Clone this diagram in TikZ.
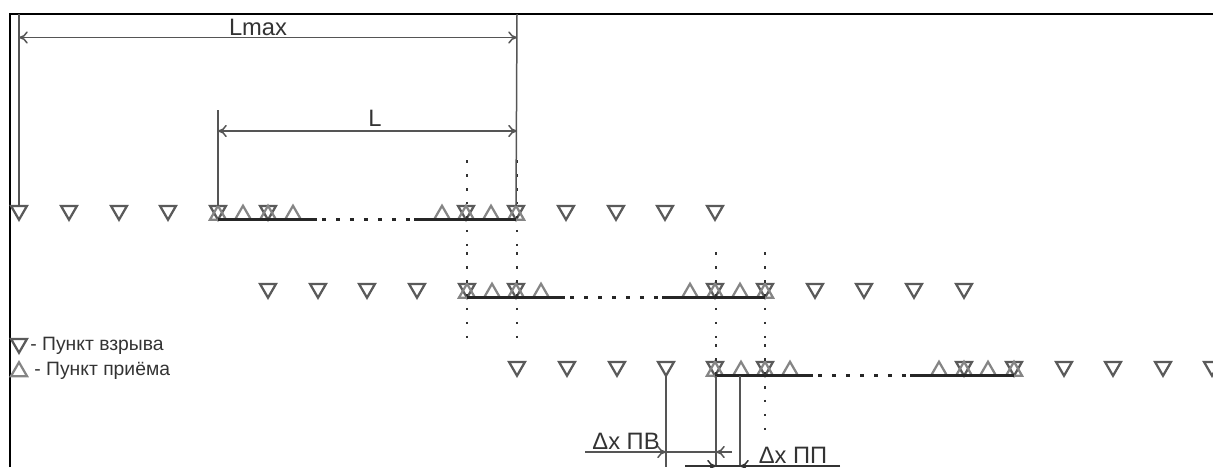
\documentclass[tikz,border=0pt]{standalone}
\usepackage{fontspec}
\setmainfont{Liberation Sans}
\usepackage{xcolor}
\usetikzlibrary{arrows.meta,shapes.geometric}

\definecolor{dimline}{HTML}{555555}
\definecolor{shotcol}{HTML}{5A5A5A}
\definecolor{recvcol}{HTML}{858585}
\definecolor{labelcol}{HTML}{333333}

\tikzset{
  shotpt/.style={draw=shotcol, line width=0.045cm, regular polygon, regular polygon sides=3,
    shape border rotate=180, minimum size=0.37cm, inner sep=0pt, outer sep=0pt},
  recvpt/.style={draw=recvcol, line width=0.045cm, regular polygon, regular polygon sides=3,
    minimum size=0.37cm, inner sep=0pt, outer sep=0pt},
  spread/.style={line width=0.05cm, black!85},
  gapdots/.style={line width=0.055cm, black!85, dash pattern=on 0.08cm off 0.2cm},
  guidedots/.style={line width=0.05cm, black!80, dash pattern=on 0.05cm off 0.23cm},
  dimarrow/.style={dimline, line width=0.03cm, ->, >={To[length=5pt,width=7pt]}},
  dimbare/.style={dimline, line width=0.03cm},
  bigtext/.style={text=labelcol, inner sep=0pt, font=\fontsize{13.5}{15}\selectfont},
  legtext/.style={text=labelcol, inner sep=0pt, anchor=west, font=\fontsize{11}{13}\selectfont}
}

\begin{document}
\begin{tikzpicture}[x=0.02cm,y=-0.02cm]
  \useasboundingbox (0,0) rectangle (1213,467);

  % frame
  \draw[line width=0.055cm, black] (10,467) -- (10,14) -- (1213,14);

  % first row
  \foreach \x in {19,69,119,168,218,268,466,516,566,616,665,715}
    \node[shotpt] (sa\x) at (\x,210.5) {};
  \foreach \x in {218,243,268,293,442,466,491,516}
    \node[recvpt] (ra\x) at (\x,215) {};
  % second row
  \foreach \x in {268,318,367,417,467,516,715,765,815,864,914,964}
    \node[shotpt] (sb\x) at (\x,288.5) {};
  \foreach \x in {467,492,516,541,690,715,740,765}
    \node[recvpt] (rb\x) at (\x,293) {};
  % third row
  \foreach \x in {517,567,617,666,715,765,964,1014,1064,1113,1163,1212}
    \node[shotpt] (sc\x) at (\x,366.5) {};
  \foreach \x in {715,741,765,790,939,964,988,1014}
    \node[recvpt] (rc\x) at (\x,371) {};

  % spreads
  \draw[spread] (218,219.5) -- (317,219.5);
  \draw[gapdots] (322,219.5) -- (410,219.5);
  \draw[spread] (414,219.5) -- (516,219.5);
  \draw[spread] (467,297.5) -- (565,297.5);
  \draw[gapdots] (570,297.5) -- (658,297.5);
  \draw[spread] (662,297.5) -- (765,297.5);
  \draw[spread] (715,375.5) -- (813,375.5);
  \draw[gapdots] (818,375.5) -- (906,375.5);
  \draw[spread] (910,375.5) -- (1014,375.5);

  % dotted guides
  \foreach \x in {467,517} {
    \draw[guidedots] (\x,160) -- (\x,246);
    \draw[guidedots] (\x,252) -- (\x,338);
  }
  \foreach \x in {716,765} {
    \draw[guidedots] (\x,252) -- (\x,338);
    \draw[guidedots] (\x,344) -- (\x,430);
  }

  % Lmax and L
  \coordinate (lmaxa) at (19,14);
  \coordinate (lmaxb) at (517,14);
  \coordinate (ltop) at (218,110);
  \draw[dimbare] (lmaxa) -- (sa19.north);
  \draw[dimbare] (lmaxb) -- (sa516.north);
  \draw[dimbare] (ltop) -- (sa218.north);
  \draw[dimarrow,<->] (19,37.5) -- (517,37.5);
  \draw[dimarrow,<->] (218,131) -- (517,131);
  \node[bigtext] (lmaxtxt) at (258,27) {Lmax};
  \node[bigtext] (ltxt) at (375,118) {L};

  % legend
  \node[shotpt] (legs) at (19,343.5) {};
  \node[recvpt] (legr) at (19,371.5) {};
  \node[legtext] (legstxt) at (30,345.5) {- Пункт взрыва};
  \node[legtext] (legrtxt) at (34,370.5) {- Пункт приёма};

  % steps
  \coordinate (stepa) at (666,467);
  \coordinate (stepb) at (716,467);
  \coordinate (stepc) at (740,467);
  \draw[dimbare] (sc666.south) -- (stepa);
  \draw[dimbare] (716,376) -- (stepb);
  \draw[dimbare] (740,376) -- (stepc);
  \draw[dimarrow] (585,452) -- (666,452);
  \draw[dimbare] (666,452) -- (716,452);
  \draw[dimarrow] (732,452) -- (716,452);
  \draw[dimarrow,black!80] (685,466) -- (716,466);
  \draw[dimbare,black!80] (716,466) -- (740,466);
  \draw[dimarrow,black!80] (840,466) -- (740,466);
  \node[bigtext] (dsrc) at (626,441) {Δx ПВ};
  \node[bigtext] (drcv) at (793,455) {Δx ПП};
\end{tikzpicture}
\end{document}
